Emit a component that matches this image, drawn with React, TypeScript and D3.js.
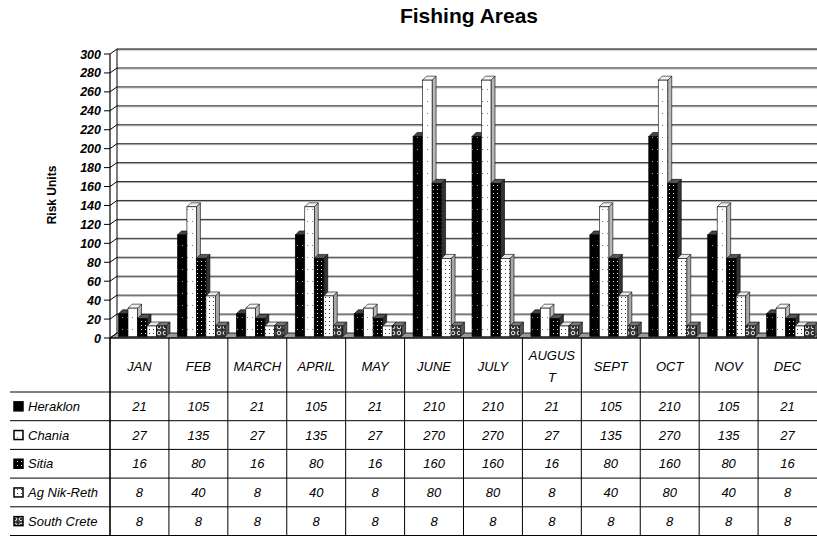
import React from "react";
import * as d3 from "d3";

const categories = ["JAN", "FEB", "MARCH", "APRIL", "MAY", "JUNE", "JULY", "AUGUST", "SEPT", "OCT", "NOV", "DEC"];
const seriesNames = ["Heraklon", "Chania", "Sitia", "Ag Nik-Reth", "South Crete"];
const heraklon = [21, 105, 21, 105, 21, 210, 210, 21, 105, 210, 105, 21];
const chania = [27, 135, 27, 135, 27, 270, 270, 27, 135, 270, 135, 27];
const sitia = [16, 80, 16, 80, 16, 160, 160, 16, 80, 160, 80, 16];
const agNikReth = [8, 40, 8, 40, 8, 80, 80, 8, 40, 80, 40, 8];
const southCrete = [8, 8, 8, 8, 8, 8, 8, 8, 8, 8, 8, 8];
const yTicks = [0, 20, 40, 60, 80, 100, 120, 140, 160, 180, 200, 220, 240, 260, 280, 300];

const seriesValues = [heraklon, chania, sitia, agNikReth, southCrete];
const patternIds = ["pHer", "pCha", "pSit", "pAg", "pSou"];
const sideFill = ["#222", "#b8b8b8", "#333", "#a8a8a8", "#555"];
const topFill = ["#444", "#f4f4f4", "#555", "#e8e8e8", "#777"];

const font = "Arial, 'Liberation Sans', sans-serif";

export default function App() {
  const width = 817;
  const height = 536;
  const left = 110;
  const depthX = 7;
  const depthY = 5;

  const x = d3.scaleBand<string>().domain(categories).range([left, width]);
  const yFront = d3.scaleLinear().domain([0, 300]).range([338, 54]);
  const yBack = d3.scaleLinear().domain([0, 300]).range([333, 49]);
  const yBar = d3.scaleLinear().domain([0, 300]).range([333.5, 52]);

  // barras dentro de cada categoría
  const inner = d3.scaleBand<number>().domain(d3.range(5)).range([8.5, 8.5 + 5 * 9.5]);
  const bw = inner.bandwidth();
  const bdx = 4;
  const bdy = 4;
  const barBottom = 336.5;

  // filas de la tabla
  const rowTop = 392;
  const rowH = 28.7;

  const wrap = (s: string) => (s.length > 5 ? [s.slice(0, 5), s.slice(5)] : [s]);

  return (
    <svg width={width} height={height} style={{ position: "absolute", left: 0, top: 0, background: "#fff" }}>
      <defs>
        <pattern id="pHer" width="5" height="12" patternUnits="userSpaceOnUse">
          <rect width="5" height="12" fill="#000" />
          <rect x="2" y="5" width="1" height="1" fill="#aaa" />
        </pattern>
        <pattern id="pCha" width="5" height="12" patternUnits="userSpaceOnUse">
          <rect width="5" height="12" fill="#fff" />
          <rect x="2" y="5" width="1" height="1" fill="#777" />
        </pattern>
        <pattern id="pSit" width="4" height="4" patternUnits="userSpaceOnUse">
          <rect width="4" height="4" fill="#000" />
          <rect x="1" y="1" width="1" height="1" fill="#ddd" />
        </pattern>
        <pattern id="pAg" width="4" height="4" patternUnits="userSpaceOnUse">
          <rect width="4" height="4" fill="#fff" />
          <rect x="1" y="1" width="1" height="1" fill="#444" />
        </pattern>
        <pattern id="pSou" width="6" height="6" patternUnits="userSpaceOnUse">
          <rect width="6" height="6" fill="#333" />
          <circle cx="3" cy="3" r="1.8" fill="none" stroke="#eee" strokeWidth="1" />
        </pattern>
      </defs>

      {/* título */}
      <text x={469} y={23} textAnchor="middle" fontFamily={font} fontWeight="bold" fontSize={21}>
        Fishing Areas
      </text>

      {/* título del eje Y */}
      <text
        transform="translate(56,195) rotate(-90)"
        textAnchor="middle"
        fontFamily={font}
        fontWeight="bold"
        fontSize={12}
      >
        Risk Units
      </text>

      {/* suelo */}
      <polygon
        points={`${left},338 ${left + depthX},333 ${width},333 ${width},338`}
        fill="#999"
        stroke="#000"
        strokeWidth={0.8}
      />

      {/* cuadrícula de la pared trasera */}
      {yTicks.map((t) => (
        <g key={t}>
          {t > 0 && (
            <>
              <line x1={left + depthX} x2={width} y1={yBack(t) + 1} y2={yBack(t) + 1} stroke="#aaa" />
              <line x1={left + depthX} x2={width} y1={yBack(t)} y2={yBack(t)} stroke={t === 300 ? "#000" : "#333"} />
            </>
          )}
          <line x1={left} x2={left + depthX} y1={yFront(t)} y2={yBack(t)} stroke="#000" />
          <line x1={left - 6} x2={left} y1={yFront(t)} y2={yFront(t)} stroke="#000" />
          <text
            x={left - 9}
            y={yFront(t) + 4.5}
            textAnchor="end"
            fontFamily={font}
            fontWeight="bold"
            fontStyle="italic"
            fontSize={12.5}
          >
            {t}
          </text>
        </g>
      ))}
      <line x1={left + depthX} x2={left + depthX} y1={yBack(300)} y2={333} stroke="#000" />
      <line x1={left} x2={left} y1={yFront(300)} y2={height} stroke="#000" strokeWidth={1.2} />

      {/* barras */}
      {categories.map((c, ci) => (
        <g key={c}>
          {seriesValues.map((vals, si) => {
            const x0 = (x(c) ?? 0) + (inner(si) ?? 0);
            const x1 = x0 + bw;
            const yt = yBar(vals[ci]);
            return (
              <g key={si}>
                <polygon
                  points={`${x1},${yt} ${x1 + bdx},${yt - bdy} ${x1 + bdx},${barBottom - bdy} ${x1},${barBottom}`}
                  fill={sideFill[si]}
                  stroke="#000"
                  strokeWidth={0.6}
                />
                <polygon
                  points={`${x0},${yt} ${x0 + bdx},${yt - bdy} ${x1 + bdx},${yt - bdy} ${x1},${yt}`}
                  fill={topFill[si]}
                  stroke="#000"
                  strokeWidth={0.6}
                />
                <rect
                  x={x0}
                  y={yt}
                  width={bw}
                  height={barBottom - yt}
                  fill={`url(#${patternIds[si]})`}
                  stroke="#000"
                  strokeWidth={0.6}
                />
              </g>
            );
          })}
        </g>
      ))}

      {/* eje X */}
      <line x1={left} x2={width} y1={338} y2={338} stroke="#000" strokeWidth={1.2} />

      {/* tabla de datos */}
      {categories.map((c) => (
        <line key={c} x1={x(c) ?? 0} x2={x(c) ?? 0} y1={338} y2={height} stroke="#000" />
      ))}
      {categories.map((c) => {
        const lines = wrap(c);
        const cx = (x(c) ?? 0) + x.bandwidth() / 2;
        return (
          <text key={c} textAnchor="middle" fontFamily={font} fontStyle="italic" fontSize={13}>
            {lines.map((l, li) => (
              <tspan key={li} x={cx} y={lines.length > 1 ? 360 + li * 22 : 371}>
                {l}
              </tspan>
            ))}
          </text>
        );
      })}
      {d3.range(6).map((r) => (
        <line key={r} x1={10} x2={width} y1={rowTop + r * rowH} y2={rowTop + r * rowH} stroke="#000" />
      ))}
      {seriesNames.map((name, si) => {
        const cy = rowTop + si * rowH + rowH / 2;
        return (
          <g key={name}>
            <rect x={14} y={cy - 4.5} width={9} height={9} fill={`url(#${patternIds[si]})`} stroke="#000" strokeWidth={1.5} />
            <text x={28} y={cy + 4.5} fontFamily={font} fontStyle="italic" fontSize={13}>
              {name}
            </text>
            {seriesValues[si].map((v, ci) => (
              <text
                key={ci}
                x={(x(categories[ci]) ?? 0) + x.bandwidth() / 2}
                y={cy + 4.5}
                textAnchor="middle"
                fontFamily={font}
                fontStyle="italic"
                fontSize={13}
              >
                {v}
              </text>
            ))}
          </g>
        );
      })}
    </svg>
  );
}
